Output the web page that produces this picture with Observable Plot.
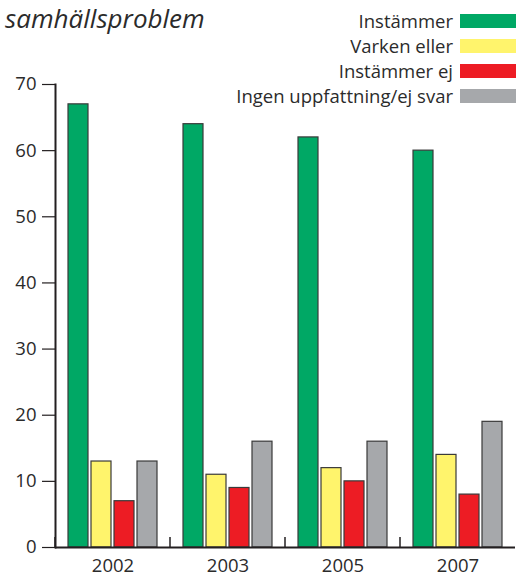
<!DOCTYPE html>
<html>
<head>
<meta charset="utf-8">
<script src="https://cdn.jsdelivr.net/npm/d3@7"></script>
<script src="https://cdn.jsdelivr.net/npm/@observablehq/plot@0.6"></script>
<style>
  body { margin: 0; background: #fff; }
  #wrap { position: relative; width: 516px; height: 576px; overflow: hidden; font-family: "Open Sans", sans-serif; color: #2b2b2b; }
  #title { position: absolute; left: 5px; top: 5px; font-size: 26px; line-height: 26px; font-style: italic; white-space: nowrap; }
  #legend { position: absolute; right: 0; top: 8px; }
  .row { display: flex; align-items: center; justify-content: flex-end; height: 25px; font-size: 18.5px; }
  .sw { width: 56px; height: 14px; margin-left: 7px; }
  #chart { position: absolute; left: 0; top: 0; }
</style>
</head>
<body>
<div id="wrap">
  <div id="chart"></div>
  <div id="title">samhällsproblem</div>
  <div id="legend"></div>
</div>
<script>
const years = ["2002", "2003", "2005", "2007"];
const categories = ["Instämmer", "Varken eller", "Instämmer ej", "Ingen uppfattning/ej svar"];
const colors = ["#00a865", "#fff46c", "#ed1c24", "#a6a8ab"];
const instammer = [67, 64, 62, 60];
const varkenEller = [13, 11, 12, 14];
const instammerEj = [7, 9, 10, 8];
const ingenUppfattning = [13, 16, 16, 19];
const yTicks = [0, 10, 20, 30, 40, 50, 60, 70];

const series = [instammer, varkenEller, instammerEj, ingenUppfattning];
const data = [];
years.forEach((yr, i) => categories.forEach((c, j) => data.push({year: yr, cat: c, value: series[j][i]})));

const ink = "#231f20";
const chart = Plot.plot({
  width: 516,
  height: 576,
  marginLeft: 53,
  marginRight: 0,
  marginTop: 84,
  marginBottom: 29,
  style: {fontFamily: "Open Sans, sans-serif", fontSize: "18.5px", color: "#2b2b2b", background: "transparent"},
  fx: {domain: years, paddingInner: 0, paddingOuter: 0, label: null},
  x: {domain: categories, paddingInner: 0.11, paddingOuter: 0.545, axis: null},
  y: {domain: [0, 70], ticks: yTicks, label: null},
  color: {domain: categories, range: colors},
  marks: [
    Plot.barY(data, {fx: "year", x: "cat", y: "value", fill: "cat", stroke: "#3a3a3a", strokeWidth: 1.2}),
    Plot.ruleY([0], {stroke: ink, strokeWidth: 2}),
    Plot.frame({anchor: "left", facetAnchor: "left", stroke: ink, strokeWidth: 2}),
    Plot.axisY({ticks: yTicks, tickSize: 13, tickPadding: 6, stroke: ink, strokeWidth: 1.2, label: null}),
    Plot.axisFx({anchor: "bottom", tickSize: 0, tickPadding: 11, label: null}),
    Plot.axisFx({anchor: "bottom", tickSize: -10, dx: -58, text: null, stroke: ink, strokeWidth: 1.5, label: null})
  ]
});
document.getElementById("chart").appendChild(chart);

const legend = document.getElementById("legend");
categories.forEach((c, j) => {
  const row = document.createElement("div");
  row.className = "row";
  const t = document.createElement("span");
  t.textContent = c;
  const s = document.createElement("span");
  s.className = "sw";
  s.style.background = colors[j];
  row.appendChild(t);
  row.appendChild(s);
  legend.appendChild(row);
});
</script>
</body>
</html>
